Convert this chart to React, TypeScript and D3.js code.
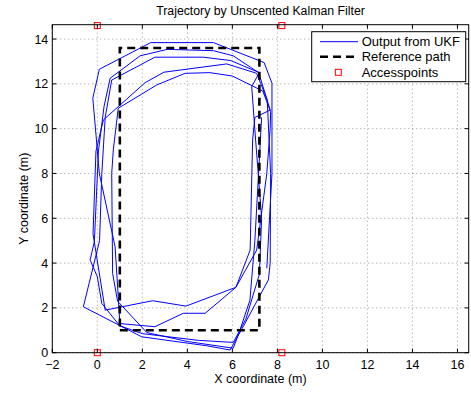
import * as d3 from "d3";

// axis ticks
const xTicks = [-2, 0, 2, 4, 6, 8, 10, 12, 14, 16];
const yTicks = [0, 2, 4, 6, 8, 10, 12, 14];

// reference rectangle
const refX = [1, 7.2, 7.2, 1, 1];
const refY = [1, 1, 13.6, 13.6, 1];

// access points
const apX = [0, 8.2, 0, 8.2];
const apY = [0, 0, 14.6, 14.6];

// UKF estimated trajectory
const ukfX = [
  7.53, 7.76, 7.76, 7.41, 5.16, 2.37, 0.09, -0.2, 0.09, 0.79, 0.93,
  1.0, 2.56, 3.82, 4.79, 6.16, 6.79, 6.9, 7.0, 7.68,
  7.17, 6.04, 5.16, 3.11, 1.9, 0.57, 0.3, 0.05, -0.13, -0.32, 0.0, 0.2,
  1.0, 2.0, 4.5, 6.04, 6.6, 7.2, 7.3, 7.0, 6.86,
  7.2, 5.93, 4.71, 2.56, 0.64, 0.35, 0.2, 0.1, -0.62,
  1.97, 4.86, 5.9, 6.5, 7.6, 7.68, 7.7, 7.55, 7.08,
  5.75, 2.96, 2.12, 0.27, -0.06, -0.19, 0.35,
  2.46, 3.94, 6.16, 7.08, 7.53, 7.68, 7.7,
  7.35, 6.0, 5.0, 3.9, 2.64, 0.93, 0.71, 0.64, 0.68, 0.9,
  2.2, 4.0, 6.04, 6.3, 6.78, 7.0, 7.3,
];
const ukfY = [
  3.77, 8.0, 12.03, 12.95, 13.84, 13.84, 12.65, 11.36, 8.0, 4.73, 2.5,
  1.3, 1.16, 1.76, 1.76, 2.92, 4.58, 9.5, 10.5, 10.83,
  12.5, 13.25, 13.48, 13.54, 13.25, 12.25, 11.0, 9.0, 4.96, 4.14, 3.39, 2.2,
  1.2, 0.85, 0.55, 0.46, 1.5, 3.5, 6.0, 9.94, 11.88,
  12.5, 13.04, 13.19, 13.19, 12.17, 10.5, 8.0, 5.0, 2.05,
  0.71, 0.31, 0.12, 1.2, 3.25, 3.99, 8.0, 11.28, 12.47,
  12.89, 12.52, 12.05, 10.39, 9.0, 5.3, 1.9,
  2.32, 2.08, 2.92, 4.58, 8.0, 10.0, 10.76,
  11.68, 12.35, 12.5, 12.47, 11.95, 10.91, 9.05, 8.0, 3.54, 2.3,
  0.9, 0.5, 0.2, 0.9, 2.34, 5.0, 10.5,
];

const W = 471;
const H = 394;
const L = 52.3, R = 468.7, T = 24.7, B = 352.7;
const font = "Arial, 'Liberation Sans', Helvetica, sans-serif";

export default function App() {
  const x = d3.scaleLinear().domain([-2, 16.5]).range([L, R]);
  const y = d3.scaleLinear().domain([0, 14.64]).range([B, T]);

  const ukfPath = d3
    .line<number>()
    .x((i) => x(ukfX[i]))
    .y((i) => y(ukfY[i]))(d3.range(ukfX.length))!;

  const refPath = d3
    .line<number>()
    .x((i) => x(refX[i]))
    .y((i) => y(refY[i]))(d3.range(refX.length))!;

  return (
    <svg
      width={W}
      height={H}
      style={{ position: "absolute", left: 0, top: 0, background: "#fff" }}
      fontFamily={font}
    >
      <defs>
        <clipPath id="plot">
          <rect x={L} y={T} width={R - L} height={B - T} />
        </clipPath>
      </defs>

      {/* grid */}
      <g stroke="#7f7f7f" strokeWidth={0.8} strokeDasharray="1,3">
        {xTicks.map((t) => (
          <line key={"gx" + t} x1={x(t)} x2={x(t)} y1={T} y2={B} />
        ))}
        {yTicks.map((t) => (
          <line key={"gy" + t} x1={L} x2={R} y1={y(t)} y2={y(t)} />
        ))}
      </g>

      <g clipPath="url(#plot)">
        <path d={ukfPath} fill="none" stroke="#0000ff" strokeWidth={1} strokeLinejoin="round" />
        <path d={refPath} fill="none" stroke="#000" strokeWidth={2.6} strokeDasharray="8,5" />
      </g>

      {apX.map((v, i) => (
        <rect
          key={"ap" + i}
          x={x(v) - 3}
          y={y(apY[i]) - 3}
          width={6}
          height={6}
          fill="none"
          stroke="#ff0000"
          strokeWidth={1}
        />
      ))}

      {/* axes box and ticks */}
      <rect x={L} y={T} width={R - L} height={B - T} fill="none" stroke="#000" strokeWidth={1} />
      <g stroke="#000" strokeWidth={1}>
        {xTicks.map((t) => (
          <g key={"tx" + t}>
            <line x1={x(t)} x2={x(t)} y1={B} y2={B - 4} />
            <line x1={x(t)} x2={x(t)} y1={T} y2={T + 4} />
          </g>
        ))}
        {yTicks.map((t) => (
          <g key={"ty" + t}>
            <line x1={L} x2={L + 4} y1={y(t)} y2={y(t)} />
            <line x1={R} x2={R - 4} y1={y(t)} y2={y(t)} />
          </g>
        ))}
      </g>
      <g fontSize={12.5} fill="#000">
        {xTicks.map((t) => (
          <text key={"lx" + t} x={x(t)} y={B + 16} textAnchor="middle">
            {t < 0 ? "\u2212" + Math.abs(t) : t}
          </text>
        ))}
        {yTicks.map((t) => (
          <text key={"ly" + t} x={L - 4} y={y(t) + 4.5} textAnchor="end">
            {t}
          </text>
        ))}
      </g>

      <text x={(L + R) / 2} y={14.5} textAnchor="middle" fontSize={12.3}>
        Trajectory by Unscented Kalman Filter
      </text>
      <text x={(L + R) / 2} y={383} textAnchor="middle" fontSize={12.5}>
        X coordinate (m)
      </text>
      <text transform={`translate(28,${(T + B) / 2 + 10}) rotate(-90)`} textAnchor="middle" fontSize={12.5}>
        Y coordinate (m)
      </text>

      {/* legend */}
      <g>
        <rect x={311.7} y={31.7} width={154} height={50} fill="#fff" stroke="#000" strokeWidth={1} />
        <line x1={320} x2={358} y1={41.7} y2={41.7} stroke="#0000ff" strokeWidth={1} />
        <line x1={320} x2={358} y1={56.7} y2={56.7} stroke="#000" strokeWidth={2.6} strokeDasharray="8,5" />
        <rect x={335.3} y={69.3} width={6} height={6} fill="none" stroke="#ff0000" strokeWidth={1} />
        <g fontSize={13}>
          <text x={361.7} y={46.2}>Output from UKF</text>
          <text x={361.7} y={61.2}>Reference path</text>
          <text x={361.7} y={76.8}>Accesspoints</text>
        </g>
      </g>
    </svg>
  );
}
